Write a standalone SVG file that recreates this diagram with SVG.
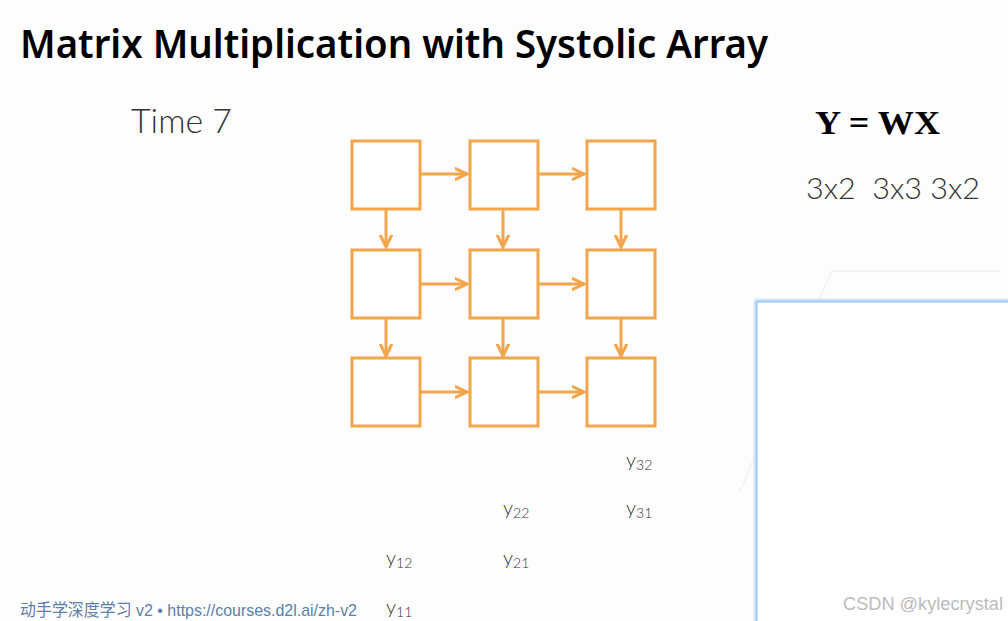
<svg xmlns="http://www.w3.org/2000/svg" width="1008" height="621" viewBox="0 0 1008 621">
<defs>
<style>
.pe{fill:#fff;stroke:#F2A54A;stroke-width:3}
.ln{stroke:#F2A54A;stroke-width:3;fill:none}
.lt{font-family:Lato,"Open Sans","Liberation Sans",sans-serif;font-weight:300;fill:#333}
.y{font-family:Lato,"Open Sans","Liberation Sans",sans-serif;font-weight:300;fill:#333;font-size:20px}
.sub{font-size:14px}
</style>
<marker id="ah" viewBox="0 0 14 14" refX="12.5" refY="7" markerWidth="14" markerHeight="14" markerUnits="userSpaceOnUse" orient="auto">
<path d="M1,1.5 L12.5,7 L1,12.5" fill="none" stroke="#F2A54A" stroke-width="3" stroke-linecap="round"/>
</marker>
<filter id="glow" x="-5%" y="-5%" width="110%" height="110%"><feGaussianBlur stdDeviation="1.5"/></filter>
</defs>
<rect width="1008" height="621" fill="#fdfdfd"/>
<text x="20" y="58" font-family="'Noto Sans','Open Sans','Liberation Sans',sans-serif" font-size="40" font-weight="600" fill="#000" textLength="748" lengthAdjust="spacingAndGlyphs">Matrix Multiplication with Systolic Array</text>
<text class="lt" x="131" y="133" font-size="34" textLength="101" lengthAdjust="spacingAndGlyphs">Time 7</text>
<text x="815" y="134" font-family="'Liberation Serif',serif" font-weight="bold" font-size="33" fill="#000" textLength="125" lengthAdjust="spacingAndGlyphs">Y = WX</text>
<text class="lt" x="806" y="199" font-size="30" fill="#444" textLength="174" lengthAdjust="spacingAndGlyphs" xml:space="preserve">3x2  3x3 3x2</text>
<g id="faint" stroke="#ececec" stroke-width="1" fill="none">
<line x1="832" y1="271" x2="1000" y2="271"/>
<line x1="832" y1="271" x2="818" y2="302"/>
<line x1="757" y1="450" x2="740" y2="492"/>
</g>
<g id="panel">
<rect x="757" y="302" width="260" height="330" fill="none" stroke="#8ec0f5" stroke-width="4" filter="url(#glow)"/>
<rect x="757" y="302" width="260" height="330" fill="#fff" stroke="#a9cff8" stroke-width="1.5"/>
</g>
<g id="connectors">
<line class="ln" x1="420" y1="174" x2="467" y2="174" marker-end="url(#ah)"/>
<line class="ln" x1="538" y1="174" x2="584" y2="174" marker-end="url(#ah)"/>
<line class="ln" x1="420" y1="284" x2="467" y2="284" marker-end="url(#ah)"/>
<line class="ln" x1="538" y1="284" x2="584" y2="284" marker-end="url(#ah)"/>
<line class="ln" x1="420" y1="392" x2="467" y2="392" marker-end="url(#ah)"/>
<line class="ln" x1="538" y1="392" x2="584" y2="392" marker-end="url(#ah)"/>
<line class="ln" x1="386" y1="209" x2="386" y2="247" marker-end="url(#ah)"/>
<line class="ln" x1="503" y1="209" x2="503" y2="247" marker-end="url(#ah)"/>
<line class="ln" x1="621" y1="209" x2="621" y2="247" marker-end="url(#ah)"/>
<line class="ln" x1="386" y1="318" x2="386" y2="356" marker-end="url(#ah)"/>
<line class="ln" x1="503" y1="318" x2="503" y2="356" marker-end="url(#ah)"/>
<line class="ln" x1="621" y1="318" x2="621" y2="356" marker-end="url(#ah)"/>
</g>
<g id="pe11"><rect class="pe" x="352" y="141" width="68" height="68"/></g>
<g id="pe12"><rect class="pe" x="470" y="141" width="68" height="68"/></g>
<g id="pe13"><rect class="pe" x="587" y="141" width="68" height="68"/></g>
<g id="pe21"><rect class="pe" x="352" y="250" width="68" height="68"/></g>
<g id="pe22"><rect class="pe" x="470" y="250" width="68" height="68"/></g>
<g id="pe23"><rect class="pe" x="587" y="250" width="68" height="68"/></g>
<g id="pe31"><rect class="pe" x="352" y="358" width="68" height="68"/></g>
<g id="pe32"><rect class="pe" x="470" y="358" width="68" height="68"/></g>
<g id="pe33"><rect class="pe" x="587" y="358" width="68" height="68"/></g>
<g id="outputs">
<text class="y" x="626" y="467">y<tspan class="sub" dy="3">32</tspan></text>
<text class="y" x="503" y="515">y<tspan class="sub" dy="3">22</tspan></text>
<text class="y" x="626" y="515">y<tspan class="sub" dy="3">31</tspan></text>
<text class="y" x="386" y="565">y<tspan class="sub" dy="3">12</tspan></text>
<text class="y" x="503" y="565">y<tspan class="sub" dy="3">21</tspan></text>
<text class="y" x="386" y="614">y<tspan class="sub" dy="3">11</tspan></text>
</g>
<text x="20" y="616" font-family="'Liberation Sans','Noto Sans CJK SC',sans-serif" font-size="17" fill="#5b80aa" textLength="337" lengthAdjust="spacingAndGlyphs">动手学深度学习 v2 • https://courses.d2l.ai/zh-v2</text>
<text x="843" y="610" font-family="'Liberation Sans',sans-serif" font-size="18" fill="#bbb" textLength="160" lengthAdjust="spacingAndGlyphs">CSDN @kylecrystal</text>
</svg>
